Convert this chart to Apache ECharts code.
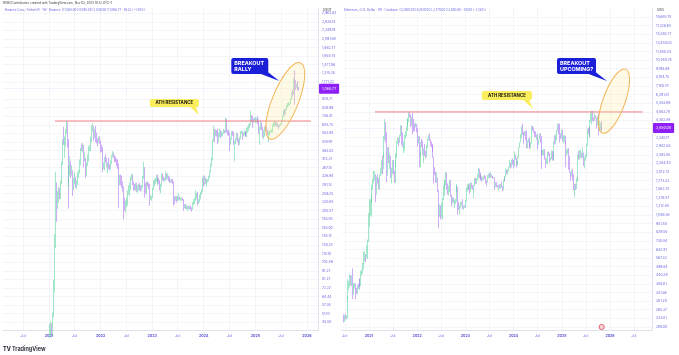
<!DOCTYPE html>
<html>
<head>
<meta charset="utf-8">
<script src="https://cdn.jsdelivr.net/npm/echarts@6/dist/echarts.min.js"></script>
<style>
  html, body { margin: 0; padding: 0; background: #fff; }
  #chart { width: 679px; height: 355px; }
</style>
</head>
<body>
<div id="chart"></div>
<script>
// Weekly candles, [open, close, low, high], one row per week from the start date
const bnbStart = '2021-01-04';
const bnbRows = [
  [37.8,41.2,36.6,44.5],[41.2,43.5,38.2,45.9],[43.5,41.6,37.5,45],[41.6,49.9,38.1,52],[49.9,73.8,48.8,81],
  [73.8,130.8,68,150],[130.8,258,124,348],[258,226,177,300],[226,239,210,269],[239,263,230,283],
  [263,255,240,280],[255,300,240,310],[300,395,295,400],[395,530,380,540],[530,520,500,638],
  [520,530,420,560],[530,610,490,620],[610,650,580,690],[650,520,480,680],[520,300,211,540],
  [300,350,280,380],[350,390,330,430],[390,350,320,400],[350,350,330,380],[350,290,250,355],
  [290,300,270,320],[300,315,295,345],[315,290,280,325],[290,300,275,310],[300,335,290,345],
  [335,350,320,355],[350,400,340,410],[400,475,380,480],[475,470,460,510],[470,485,450,510],
  [485,415,370,500],[415,415,400,450],[415,345,320,420],[345,380,330,395],[380,410,375,440],
  [410,470,400,490],[470,480,460,500],[480,530,460,560],[530,640,520,650],[640,640,600,669],
  [640,560,530,645],[560,600,545,620],[600,585,520,645],[585,540,510,590],[540,520,490,545],
  [520,545,515,560],[545,512,505,560],
  [512,478,450,530],[478,470,455,500],[470,380,345,485],[380,380,360,395],[380,420,355,425],
  [420,410,395,440],[410,380,370,420],[380,385,340,395],[385,375,360,420],[375,370,355,385],
  [370,395,360,405],[395,430,385,435],[430,445,420,460],[445,430,420,450],[430,410,395,435],
  [410,405,395,425],[405,390,375,415],[390,385,360,410],[385,300,212,390],[300,310,290,335],
  [310,300,290,335],[300,290,280,330],[290,280,265,305],[280,222,183,285],[222,220,205,245],
  [220,222,200,235],[222,232,215,245],[232,262,220,270],[262,265,255,290],[265,285,250,300],
  [285,320,270,325],[320,320,310,340],[320,300,290,335],[300,290,270,305],[290,280,270,295],
  [280,290,270,300],[290,270,265,300],[270,275,260,290],[275,285,270,295],[285,280,270,300],
  [280,275,265,290],[275,285,270,290],[285,325,280,330],[325,340,315,398],[340,280,245,370],
  [280,270,260,300],[270,300,255,305],[300,290,285,305],[290,280,275,300],[280,245,220,295],
  [245,245,238,255],[245,246,235,250],
  [246,275,244,280],[275,300,272,310],[300,300,285,315],[300,315,295,320],[315,330,305,335],
  [330,305,300,335],[305,310,290,320],[310,300,295,320],[300,285,270,310],[285,290,260,295],
  [290,330,285,340],[330,320,310,340],[320,315,305,325],[315,315,305,320],[315,335,310,350],
  [335,320,310,340],[320,325,315,340],[325,320,305,330],[320,305,300,325],[305,310,300,315],
  [310,305,300,315],[305,300,295,315],[300,245,220,305],[245,240,225,250],[240,245,235,250],
  [245,240,230,250],[240,245,235,250],[245,245,235,260],[245,240,238,248],[240,240,235,245],
  [240,240,235,245],[240,238,235,245],[238,215,205,240],[215,218,212,225],[218,215,210,225],
  [215,215,210,220],[215,215,205,220],[215,212,210,220],[212,213,208,218],[213,212,208,220],
  [212,210,203,215],[210,225,208,230],[225,228,222,240],[228,240,225,245],[240,245,235,270],
  [245,250,240,260],[250,230,220,265],[230,235,225,240],[235,245,230,255],[245,260,240,265],
  [260,270,255,275],[270,315,265,320],
  [315,305,285,330],[305,310,290,330],[310,300,295,320],[300,310,285,315],[310,310,300,315],
  [310,325,305,330],[325,350,320,355],[350,380,345,390],[380,410,375,425],[410,530,405,540],
  [530,610,520,645],[610,570,520,620],[570,590,560,615],[590,580,560,610],[580,560,505,620],
  [560,560,520,590],[560,600,555,620],[600,580,545,610],[580,580,560,600],[580,580,560,590],
  [580,600,580,620],[600,595,585,610],[595,700,590,721],[700,610,590,710],[610,600,570,615],
  [600,580,565,610],[580,520,460,590],[520,540,500,550],[540,590,535,600],[590,580,565,605],
  [580,510,500,595],[510,510,400,530],[510,540,505,550],[540,580,530,590],[580,540,520,585],
  [540,510,495,545],[510,550,500,560],[550,590,540,600],[590,590,580,610],[590,570,535,600],
  [570,580,560,590],[580,590,570,610],[590,580,565,600],[580,570,555,600],[570,610,555,630],
  [610,620,590,640],[620,640,600,660],[640,660,630,670],[660,730,650,793],[730,720,680,745],
  [720,680,630,740],[680,705,670,715],[705,700,690,720],
  [700,700,670,730],[700,710,675,720],[710,680,660,740],[680,620,580,710],[620,620,500,640],
  [620,660,610,690],[660,630,610,675],[630,560,550,640],[560,570,540,610],[570,630,560,640],
  [630,620,610,650],[620,610,600,640],[610,580,570,615],[580,585,520,600],[585,595,570,610],
  [595,600,590,610],[600,600,590,615],[600,650,590,660],[650,650,640,675],[650,670,640,690],
  [670,660,650,680],[660,660,640,680],[660,645,640,675],[645,640,620,650],[640,655,635,660],
  [655,665,650,670],[665,695,660,700],[695,740,690,745],[740,780,730,805],[780,770,745,810],
  [770,810,755,815],[810,850,800,860],[850,860,830,880],[860,860,845,890],[860,880,850,885],
  [880,930,870,935],[930,1010,920,1020],[1010,1000,960,1050],[1000,1180,990,1230],[1180,1150,860,1370],
  [1150,1100,1050,1200],[1100,1110,1080,1140],[1110,1085,1043,1183],[1085,1068.77,1040,1095]
];

const ethStart = '2020-06-22';
const ethRows = [
  [243,225,220,248],[225,241,222,246],[241,233,231,248],[233,236,230,244],[236,310,235,325],
  [310,390,305,415],[390,395,355,405],[395,430,370,445],[430,395,380,440],[395,430,375,440],
  [430,350,310,488],[350,375,330,390],[375,385,360,395],[385,355,310,390],[355,345,335,365],
  [345,370,335,380],[370,365,360,390],[365,405,355,420],[405,385,370,420],[385,460,375,470],
  [460,460,440,480],[460,510,450,530],[510,580,480,620],[580,590,540,630],[590,580,535,600],
  [580,640,570,680],[640,730,560,745],[730,1040,720,1100],
  [1040,1230,900,1350],[1230,1230,1060,1350],[1230,1380,1040,1440],[1380,1610,1280,1670],[1610,1790,1550,1820],
  [1790,1930,1700,2040],[1930,1930,1780,2040],[1930,1450,1290,1940],[1450,1870,1440,1880],[1870,1780,1700,1940],
  [1780,1690,1560,1840],[1690,1920,1550,1940],[1920,2080,1900,2150],[2080,2300,1950,2400],[2300,2230,1950,2550],
  [2230,2530,2100,2650],[2530,3300,2500,3420],[3300,3950,3200,4380],[3950,3550,3100,4200],[3550,2280,1730,3600],
  [2280,2700,1900,2900],[2700,2500,2300,2900],[2500,2500,2100,2650],[2500,1980,1850,2550],[1980,2080,1700,2150],
  [2080,2150,1950,2400],[2150,2000,1950,2400],[2000,1890,1720,2050],[1890,2380,1720,2400],[2380,2620,2150,2670],
  [2620,3160,2450,3180],[3160,3290,3050,3330],[3290,3230,2950,3330],[3230,3430,3080,3480],[3430,3930,3400,4020],
  [3930,3400,3000,3970],[3400,2930,2900,3600],[2930,3050,2650,3150],[3050,3400,2750,3480],[3400,3420,3300,3650],
  [3420,3850,3400,3900],[3850,4060,3680,4380],[4060,4290,3900,4460],[4290,4730,4200,4820],[4730,4570,4500,4870],
  [4570,4300,3900,4700],[4300,4450,3950,4550],[4450,4130,3500,4780],[4130,3960,3650,4400],[3960,3930,3650,4100],
  [3930,4050,3880,4150],[4050,3770,3600,4100],
  [3770,3200,2930,3860],[3200,3330,3060,3420],[3330,2420,2160,3400],[2420,2600,2150,2700],[2600,3120,2530,3130],
  [3120,2930,2900,3280],[2930,2620,2580,3200],[2620,2620,2300,2850],[2620,2560,2550,3040],[2560,2520,2450,2750],
  [2520,2940,2500,3000],[2940,3280,2880,3300],[3280,3450,3200,3480],[3450,3200,3180,3550],[3200,3000,2950,3250],
  [3000,2920,2890,3150],[2920,2830,2700,3050],[2830,2510,2480,2950],[2510,2050,1700,2520],[2050,1970,1920,2160],
  [1970,1780,1720,2020],[1780,1800,1720,2000],[1800,1530,1500,1850],[1530,1130,880,1540],[1130,1140,1040,1250],
  [1140,1080,1000,1230],[1080,1170,1030,1280],[1170,1350,1000,1380],[1350,1550,1330,1650],[1550,1680,1420,1770],
  [1680,1700,1560,1800],[1700,1990,1660,2020],[1990,1580,1550,1990],[1580,1550,1440,1700],[1550,1550,1420,1650],
  [1550,1720,1500,1790],[1720,1440,1400,1790],[1440,1300,1220,1440],[1300,1310,1270,1400],[1310,1290,1280,1380],
  [1290,1300,1190,1340],[1300,1310,1250,1350],[1310,1570,1300,1650],[1570,1620,1500,1680],[1620,1250,1070,1620],
  [1250,1160,1150,1300],[1160,1200,1080,1230],[1200,1270,1180,1300],[1270,1270,1230,1300],[1270,1180,1160,1350],
  [1180,1220,1160,1230],[1220,1200,1190,1230],
  [1200,1320,1190,1330],[1320,1550,1300,1600],[1550,1600,1510,1670],[1600,1590,1550,1650],[1590,1640,1560,1710],
  [1640,1520,1460,1690],[1520,1690,1500,1740],[1690,1630,1580,1720],[1630,1560,1550,1660],[1560,1650,1370,1660],
  [1650,1800,1640,1840],[1800,1750,1680,1850],[1750,1820,1690,1840],[1820,1860,1780,1950],[1860,2090,1850,2140],
  [2090,1870,1830,2110],[1870,1870,1800,1960],[1870,1840,1780,2000],[1840,1800,1740,1890],[1800,1810,1780,1850],
  [1810,1890,1790,1910],[1890,1840,1820,1930],[1840,1730,1700,1890],[1730,1720,1630,1780],[1720,1890,1720,1930],
  [1890,1950,1840,1960],[1950,1870,1850,1980],[1870,1930,1840,2020],[1930,1890,1870,1940],[1890,1860,1840,1890],
  [1860,1850,1820,1880],[1850,1850,1830,1860],[1850,1650,1550,1860],[1650,1650,1610,1740],[1650,1630,1610,1740],
  [1630,1620,1600,1660],[1620,1620,1530,1660],[1620,1590,1580,1680],[1590,1670,1580,1690],[1670,1630,1600,1750],
  [1630,1560,1520,1640],[1560,1790,1540,1800],[1790,1780,1750,1870],[1780,1880,1770,1900],[1880,2050,1870,2130],
  [2050,2010,1950,2080],[2010,2060,1930,2100],[2060,2170,2020,2190],[2170,2210,2150,2400],[2210,2200,2120,2310],
  [2200,2300,2150,2420],[2300,2280,2250,2450],
  [2280,2210,2120,2400],[2210,2500,2200,2720],[2500,2460,2420,2600],[2460,2260,2160,2470],[2260,2290,2200,2360],
  [2290,2500,2280,2540],[2500,2880,2480,2900],[2880,3110,2870,3120],[3110,3490,3100,3520],[3490,3880,3300,3950],
  [3880,3510,3480,4090],[3510,3450,3050,3640],[3450,3510,3420,3680],[3510,3460,3200,3660],[3460,3020,2850,3730],
  [3020,3150,2850,3200],[3150,3260,3100,3290],[3260,3110,2820,3340],[3110,2930,2900,3130],[2930,3070,2850,3120],
  [3070,3830,3050,3980],[3830,3780,3700,3970],[3780,3680,3580,3890],[3680,3560,3360,3680],[3560,3420,3360,3650],
  [3420,3440,3230,3490],[3440,3060,2810,3530],[3060,3250,3000,3260],[3250,3450,3250,3560],[3450,3270,3100,3560],
  [3270,2690,2600,3400],[2690,2610,2110,2790],[2610,2610,2550,2800],[2610,2750,2580,2810],[2750,2430,2420,2820],
  [2430,2290,2150,2490],[2290,2360,2270,2460],[2360,2650,2250,2700],[2650,2600,2550,2730],[2600,2440,2310,2670],
  [2440,2470,2380,2500],[2470,2750,2440,2770],[2750,2500,2390,2750],[2500,2400,2390,2700],[2400,3120,2360,3150],
  [3120,3100,3010,3450],[3100,3350,3050,3500],[3350,3700,3200,3730],[3700,3990,3650,4110],[3990,3900,3500,4100],
  [3900,3490,3100,4100],[3490,3360,3260,3550],[3360,3650,3320,3750],
  [3650,3270,3160,3740],[3270,3300,3060,3450],[3300,3300,3150,3450],[3300,3120,3030,3430],[3120,2630,2150,3160],
  [2630,2710,2550,2800],[2710,2820,2630,2850],[2820,2240,2080,2860],[2240,2010,1990,2550],[2010,1930,1760,2020],
  [1930,1980,1880,2070],[1980,1820,1780,2100],[1820,1580,1540,1950],[1580,1620,1385,1690],[1620,1580,1540,1690],
  [1580,1790,1570,1830],[1790,1810,1750,1870],[1810,2520,1780,2600],[2520,2500,2420,2740],[2500,2520,2400,2780],
  [2520,2530,2470,2790],[2530,2520,2470,2680],[2520,2550,2480,2880],[2550,2260,2200,2680],[2260,2420,2120,2510],
  [2420,2570,2370,2620],[2570,2970,2500,3050],[2970,3750,2950,3800],[3750,3710,3500,3860],[3710,3500,3350,3940],
  [3500,4260,3350,4330],[4260,4480,4200,4790],[4480,4780,4050,4950],[4780,4390,4280,4950],[4390,4300,4220,4490],
  [4300,4600,4280,4780],[4600,4480,4420,4640],[4480,4040,3830,4480],[4040,4480,4000,4600],[4480,3840,3440,4760],
  [3840,3990,3710,4290],[3990,4150,3680,4170],[4150,3900,3680,4250],[3900,3850,3770,3920]
];

// Price-scale labels (log scale, as on the right-hand axes; the one under the price tag is hidden)
const bnbTicks = [45.50,51.10,57.38,64.44,72.37,81.27,91.27,102.49,115.10,129.25,145.15,163.00,183.05,
  205.57,230.85,259.25,291.13,326.94,367.15,412.31,463.02,519.97,583.93,655.75,736.41,826.99,928.71,
  1171.22,1315.28,1477.06,1658.74,1862.77,2091.89,2349.19,2638.14,2962.63];
const ethTicks = [206.00,233.81,265.37,301.20,341.86,388.01,440.39,499.84,567.32,643.91,730.84,829.50,
  941.48,1068.58,1212.84,1376.57,1562.41,1773.33,2012.73,2284.45,2592.85,2942.88,3340.17,4302.89,
  4883.78,5543.09,6291.41,7140.75,8104.75,9198.89,10440.74,11850.24,13450.02,15265.77,17326.65,19665.75];

// Time-scale labels
const bnbTimeTicks = ['2020-07-01','2021-01-01','2021-07-01','2022-01-01','2022-07-01','2023-01-01',
  '2023-07-01','2024-01-01','2024-07-01','2025-01-01','2025-07-01','2026-01-01'];
const ethTimeTicks = ['2020-07-01','2021-01-01','2021-07-01','2022-01-01','2022-07-01','2023-01-01',
  '2023-07-01','2024-01-01','2024-07-01','2025-01-01','2025-07-01','2026-01-01','2026-07-01'];

// Drawn annotations, anchored in [date, price]
const bnbAthLine = ['2021-02-12', '2026-01-29', 690];
const ethAthLine = ['2021-02-15', '2026-09-05', 4870];
const bnbEllipse = ['2025-07-31', 905];
const ethEllipse = ['2026-01-31', 5714];
const bnbCalloutTip = ['2025-06-19', 1186];
const ethCalloutTip = ['2025-12-09', 7666];
const bnbAthTip = ['2023-11-27', 749];
const ethAthTip = ['2024-05-27', 5081];

const UP = '#45cf92';
const DOWN = '#a05cf2';
const LABEL = '#6c66e0';
const ATH_RED = '#f27c84';
const DAY = 86400000;
const ts = s => Date.parse(s + 'T00:00:00Z');
const fmtPrice = v => Number(v).toLocaleString('en-US', { minimumFractionDigits: 2, maximumFractionDigits: 2 });

const chart = echarts.init(document.getElementById('chart'));

// value axis holding timestamps, so custom label positions can be used
const xAxisFor = (idx, min, max, ticks) => ({
  type: 'value', gridIndex: idx, min: ts(min), max: ts(max), scale: true,
  axisLine: { show: true, onZero: false, lineStyle: { color: '#dfe2ea', width: 1 } },
  axisTick: { show: false, customValues: ticks.map(ts) },
  splitLine: { show: true, lineStyle: { color: '#f4f5f9', width: 1 } },
  axisLabel: {
    customValues: ticks.map(ts), margin: 4, fontSize: 3.6, color: LABEL, fontFamily: 'Inter',
    formatter: (v) => {
      const d = new Date(v);
      return d.getUTCMonth() === 0 ? '{y|' + d.getUTCFullYear() + '}' : 'Jul';
    },
    rich: { y: { fontSize: 3.6, fontWeight: 'bold', color: '#5a55d8', fontFamily: 'Inter' } }
  }
});

const yAxisFor = (idx, min, max, ticks) => ({
  type: 'log', logBase: 10, gridIndex: idx, position: 'right', min: min, max: max,
  axisLine: { show: true, lineStyle: { color: '#dfe2ea', width: 1 } },
  axisTick: { show: false, customValues: ticks },
  splitLine: { show: true, lineStyle: { color: '#f4f5f9', width: 1 } },
  axisLabel: { customValues: ticks, formatter: fmtPrice, fontSize: 3.4, color: LABEL, margin: 4, fontFamily: 'Inter' }
});

const candleSeries = (idx, name, start, rows) => {
  const last = rows[rows.length - 1][1];
  return {
    type: 'candlestick', name: name, xAxisIndex: idx, yAxisIndex: idx,
    data: rows.map((r, i) => [ts(start) + i * 7 * DAY, r[0], r[1], r[2], r[3]]),
    encode: { x: 0, y: [1, 2, 3, 4] },
    barWidth: 0.8,
    itemStyle: { color: UP, color0: DOWN, borderColor: UP, borderColor0: DOWN, borderWidth: 0.5 },
    markLine: {
      symbol: 'none', silent: true, animation: false,
      data: [{
        yAxis: last,
        lineStyle: { color: 'rgba(160, 92, 242, 0.35)', type: 'dotted', width: 0.5 },
        label: {
          show: true, position: 'end', distance: 1, formatter: () => fmtPrice(last),
          backgroundColor: '#8e1ff5', color: '#ffffff', fontSize: 3.6, fontFamily: 'Inter',
          padding: [3, 3, 3, 3], borderRadius: 1
        }
      }]
    }
  };
};

// the hand-drawn ATH resistance line, as a two-point line series
const athSeries = (idx, ath) => ({
  type: 'line', xAxisIndex: idx, yAxisIndex: idx, silent: true, symbol: 'none', z: 5,
  data: [[ts(ath[0]), ath[2]], [ts(ath[1]), ath[2]]],
  lineStyle: { color: ATH_RED, width: 1 },
  itemStyle: { color: ATH_RED }
});

chart.setOption({
  animation: false,
  grid: [
    { left: 3, right: 361, top: 8, bottom: 25 },
    { left: 342, right: 27, top: 8, bottom: 25 }
  ],
  xAxis: [
    xAxisFor(0, '2020-02-10', '2026-03-20', bnbTimeTicks),
    xAxisFor(1, '2020-06-10', '2026-11-15', ethTimeTicks)
  ],
  yAxis: [
    yAxisFor(0, 41, 3177, bnbTicks),
    yAxisFor(1, 197, 22470, ethTicks)
  ],
  series: [
    candleSeries(0, 'BNBUSDT', bnbStart, bnbRows),
    candleSeries(1, 'ETHUSD', ethStart, ethRows),
    athSeries(0, bnbAthLine),
    athSeries(1, ethAthLine)
  ]
});

// ---- annotations placed from data coordinates ----
const px = (g, p) => chart.convertToPixel({ gridIndex: g }, [ts(p[0]), p[1]]);

const ellipse = (c, rx, ry, deg) => ({
  type: 'ellipse', x: c[0], y: c[1], rotation: deg * Math.PI / 180, z: 10,
  shape: { cx: 0, cy: 0, rx: rx, ry: ry },
  style: { fill: 'rgba(255, 234, 150, 0.25)', stroke: '#f3b457', lineWidth: 1 }
});

const callout = (tip, dx, dy, w, h, text) => {
  const bx = tip[0] + dx, by = tip[1] + dy;
  return [
    { type: 'polygon', z: 20, shape: { points: [[bx + w - 10, by + h - 1], [bx + w - 3, by + h - 4], tip] }, style: { fill: '#1b20d8' } },
    { type: 'rect', z: 21, shape: { x: bx, y: by, width: w, height: h, r: 2 }, style: { fill: '#1b20d8' } },
    { type: 'text', z: 22, x: bx + 3, y: by + 2.5, style: { text: text, fill: '#fff', font: 'bold 5.4px Inter', lineHeight: 6 } }
  ];
};

const tag = (tip, dx, dy, w, h, text) => {
  const bx = tip[0] + dx, by = tip[1] + dy;
  return [
    { type: 'polygon', z: 20, shape: { points: [[bx + w - 9, by + h - 0.5], [bx + w - 3, by + h - 0.5], tip] }, style: { fill: '#fbee5c' } },
    { type: 'rect', z: 21, shape: { x: bx, y: by, width: w, height: h, r: 2 }, style: { fill: '#fbee5c' } },
    { type: 'text', z: 22, x: bx + w / 2, y: by + h / 2, style: { text: text, fill: '#111', font: 'bold 4.4px Inter', align: 'center', verticalAlign: 'middle' } }
  ];
};

const ethEvent = chart.convertToPixel({ gridIndex: 1 }, [ts('2025-10-30'), 197]);

chart.setOption({
  graphic: [
    { type: 'text', x: 3, y: 1.5, style: { text: 'ROBOContributors created with TradingView.com, Nov 03, 2025 10:13 UTC+1', fill: '#3a3a3a', font: '3px Inter' } },
    { type: 'text', x: 5, y: 8.5, style: { text: 'Binance Coin / TetherUS · 1W · Binance  O1,085.00 H1,095.00 L1,040.00 C1,068.77 −16.23 (−1.50%)', fill: LABEL, font: '3px Inter' } },
    { type: 'text', x: 344, y: 8.5, style: { text: 'Ethereum / U.S. Dollar · 1W · Coinbase  O3,900.00 H3,920.00 L3,770.00 C3,850.00 −50.00 (−1.28%)', fill: LABEL, font: '3px Inter' } },
    { type: 'text', x: 323, y: 8.5, style: { text: 'USDT', fill: '#333', font: '3.2px Inter' } },
    { type: 'text', x: 657, y: 8.5, style: { text: 'USD', fill: '#333', font: '3.2px Inter' } },
    { type: 'text', x: 3, y: 346, style: { text: 'TV', fill: '#131722', font: 'bold 5.5px Inter' } },
    { type: 'text', x: 12, y: 346, style: { text: 'TradingView', fill: '#131722', font: '600 5.5px Inter' } },
    ellipse(px(0, bnbEllipse), 41, 13, 68),
    ellipse(px(1, ethEllipse), 34, 11, 70),
    ...callout(px(0, bnbCalloutTip), -48, -23, 37, 16, 'BREAKOUT\nRALLY'),
    ...callout(px(1, ethCalloutTip), -50, -23, 39, 16, 'BREAKOUT\nUPCOMING?'),
    ...tag(px(0, bnbAthTip), -49, -16, 49, 8, 'ATH RESISTANCE'),
    ...tag(px(1, ethAthTip), -51, -18, 50, 9, 'ATH RESISTANCE'),
    { type: 'circle', z: 20, shape: { cx: ethEvent[0], cy: ethEvent[1] - 3, r: 2.6 }, style: { fill: '#f8d7d9', stroke: '#e2424f', lineWidth: 0.8 } }
  ]
});
</script>
</body>
</html>
